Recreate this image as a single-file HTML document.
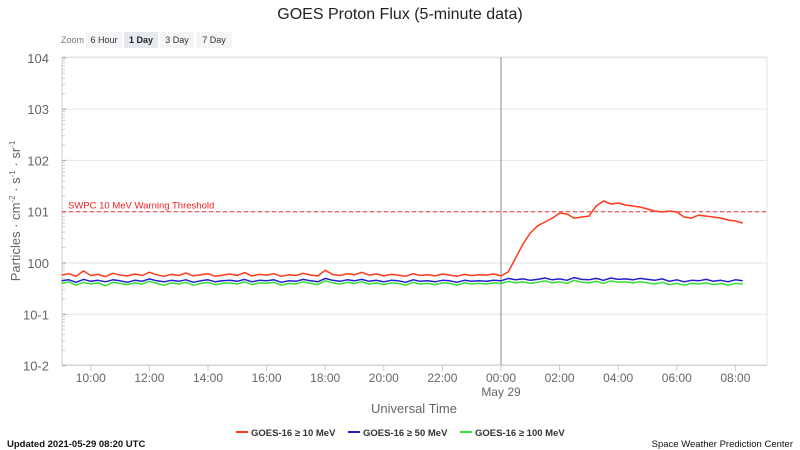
<!DOCTYPE html>
<html><head><meta charset="utf-8"><style>
body{margin:0;background:#fff;font-family:"Liberation Sans",sans-serif;}
svg{display:block}
</style></head><body>
<svg id="c" width="800" height="450">
<text x="400" y="19" text-anchor="middle" font-size="16" fill="#222">GOES Proton Flux (5-minute data)</text>
<text x="61" y="43" font-size="9" fill="#777">Zoom</text>
<g><rect x="86" y="32" width="36" height="16" fill="#f4f5f7"/><text x="104" y="43" text-anchor="middle" font-size="9" fill="#333">6 Hour</text></g>
<g><rect x="124" y="32" width="34" height="16" fill="#e6e9f0"/><text x="141" y="43" text-anchor="middle" font-size="9" font-weight="bold" fill="#222">1 Day</text></g>
<g><rect x="160" y="32" width="34" height="16" fill="#f4f5f7"/><text x="177" y="43" text-anchor="middle" font-size="9" fill="#333">3 Day</text></g>
<g><rect x="196" y="32" width="36" height="16" fill="#f4f5f7"/><text x="214" y="43" text-anchor="middle" font-size="9" fill="#333">7 Day</text></g>
<text transform="translate(20,211) rotate(-90)" text-anchor="middle" font-size="13" fill="#666">Particles · cm<tspan font-size="8" dy="-5">-2</tspan><tspan dy="5"> · s</tspan><tspan font-size="8" dy="-5">-1</tspan><tspan dy="5"> · sr</tspan><tspan font-size="8" dy="-5">-1</tspan></text>
<text x="414" y="413" text-anchor="middle" font-size="13" fill="#666">Universal Time</text>
<g id="plot"></g>
<g font-size="9.5" font-weight="bold" fill="#333">
<g><line x1="236" y1="432" x2="248" y2="432" stroke="#ff3a1a" stroke-width="2"/><text x="251" y="436">GOES-16 ≥ 10 MeV</text></g>
<g><line x1="348" y1="432" x2="360" y2="432" stroke="#2020d0" stroke-width="2"/><text x="363" y="436">GOES-16 ≥ 50 MeV</text></g>
<g><line x1="460" y1="432" x2="472" y2="432" stroke="#33e033" stroke-width="2"/><text x="475" y="436">GOES-16 ≥ 100 MeV</text></g>
</g>
<text x="7" y="447" font-size="9.5" font-weight="bold" fill="#111">Updated 2021-05-29 08:20 UTC</text>
<text x="793" y="447" text-anchor="end" font-size="9.5" fill="#111">Space Weather Prediction Center</text>
</svg>
<script>
const yTickExps = [4,3,2,1,0,-1,-2];
const xTickLabels = ["10:00","12:00","14:00","16:00","18:00","20:00","22:00","00:00","02:00","04:00","06:00","08:00"];
const xTickHours = [-14,-12,-10,-8,-6,-4,-2,0,2,4,6,8];
const startHour = -15; const stepHours = 0.25;
const threshold = 10;
const red = [0.58,0.62,0.55,0.70,0.57,0.60,0.54,0.63,0.58,0.56,
0.61,0.57,0.66,0.59,0.55,0.60,0.57,0.64,0.56,0.59,
0.62,0.55,0.58,0.61,0.57,0.65,0.56,0.60,0.58,0.62,
0.55,0.59,0.57,0.63,0.58,0.56,0.72,0.60,0.57,0.62,
0.59,0.66,0.58,0.61,0.56,0.60,0.58,0.55,0.62,0.57,
0.59,0.56,0.61,0.58,0.55,0.60,0.57,0.59,0.58,0.61,
0.56,0.67,1.25,2.35,3.85,5.3,6.3,7.5,9.4,9.0,
7.5,7.9,8.2,12.9,16.2,14.1,14.8,13.5,12.9,12.3,
11.3,10.3,9.85,10.3,9.85,7.9,7.5,8.6,8.2,7.9,
7.5,6.9,6.6,6.0];
const blue = [0.45,0.47,0.42,0.48,0.44,0.46,0.43,0.47,0.45,0.42,
0.46,0.44,0.49,0.45,0.43,0.46,0.44,0.47,0.42,0.45,
0.47,0.43,0.45,0.46,0.44,0.48,0.43,0.46,0.45,0.47,
0.42,0.45,0.44,0.48,0.45,0.43,0.50,0.46,0.44,0.47,
0.45,0.48,0.44,0.46,0.43,0.46,0.45,0.42,0.47,0.44,
0.45,0.43,0.46,0.45,0.42,0.46,0.44,0.45,0.44,0.46,
0.45,0.50,0.47,0.49,0.46,0.48,0.51,0.47,0.49,0.46,
0.52,0.48,0.47,0.50,0.46,0.51,0.48,0.49,0.47,0.50,
0.48,0.46,0.49,0.44,0.47,0.43,0.46,0.45,0.48,0.44,
0.46,0.43,0.47,0.45];
const green = [0.40,0.43,0.37,0.42,0.39,0.41,0.36,0.42,0.40,0.38,
0.41,0.39,0.44,0.40,0.37,0.41,0.39,0.42,0.37,0.40,
0.42,0.38,0.40,0.41,0.39,0.43,0.38,0.41,0.40,0.42,
0.37,0.40,0.39,0.43,0.40,0.38,0.45,0.41,0.39,0.42,
0.40,0.43,0.39,0.41,0.38,0.41,0.40,0.37,0.42,0.39,
0.40,0.38,0.41,0.40,0.37,0.41,0.39,0.40,0.39,0.41,
0.40,0.44,0.41,0.43,0.40,0.42,0.45,0.41,0.43,0.40,
0.46,0.42,0.41,0.44,0.40,0.45,0.42,0.43,0.41,0.43,
0.41,0.39,0.42,0.38,0.40,0.37,0.40,0.39,0.41,0.38,
0.40,0.37,0.40,0.39];

const L=62,R=767,T=57,B=365;
const xS=h=>501+h*29.3;
const yS=v=>263-Math.log10(v)*51.3;
const yE=e=>263-e*51.3;
const ns="http://www.w3.org/2000/svg";
const g=document.getElementById('plot');
function mk(t,a,p){const e=document.createElementNS(ns,t);for(const k in a)e.setAttribute(k,a[k]);(p||g).appendChild(e);return e;}

const frame=mk('rect',{x:L,y:T,width:R-L,height:B-T,fill:'none',stroke:'#e6e6e6'});


yTickExps.forEach(e=>{
  const y=yE(e);
  const gl=mk('line',{x1:L,x2:R,y1:y,y2:y,stroke:'#e6e6e6'});
  
  
  const t=mk('text',{x:49,y:y+5,'text-anchor':'end','font-size':13,fill:'#666'});
  t.textContent='10'+e;
  
  
  mk('line',{x1:L,x2:L+4,y1:y,y2:y,stroke:'#999'});
  if(e<4){for(let m=2;m<10;m++){const yy=y-Math.log10(m)*51.3;mk('line',{x1:L,x2:L+3,y1:yy,y2:yy,stroke:'#ccc'});}}
});
mk('line',{x1:L,x2:L,y1:T,y2:B,stroke:'#ccc'});
mk('line',{x1:L,x2:R,y1:B,y2:B,stroke:'#ccc'});
xTickHours.forEach((h,i)=>{
  const x=xS(h);
  mk('line',{x1:x,x2:x,y1:B,y2:B+6,stroke:'#ccc'});
  const t=mk('text',{x:x,y:382,'text-anchor':'middle','font-size':12,fill:'#666'});
  t.textContent=xTickLabels[i];
  
  
});
const d=mk('text',{x:xS(0),y:396,'text-anchor':'middle','font-size':12,fill:'#666'});
d.textContent='May 29';


const vl=mk('line',{x1:xS(0),x2:xS(0),y1:T,y2:B,stroke:'#888'});


const th=mk('line',{x1:L,x2:R,y1:yS(threshold),y2:yS(threshold),stroke:'#f03030','stroke-dasharray':'4,3'});


const tt=mk('text',{x:68,y:yS(threshold)-3,'font-size':9.5,fill:'#f02020'});
tt.textContent='SWPC 10 MeV Warning Threshold';


function series(arr,col,name){
  const pts=arr.map((v,i)=>xS(startHour+i*stepHours).toFixed(1)+','+yS(v).toFixed(1)).join(' ');
  const p=mk('polyline',{points:pts,fill:'none',stroke:col,'stroke-width':1.5,'stroke-linejoin':'round'});
  
  
}
series(green,'#33e033','series-100mev');
series(blue,'#2020d0','series-50mev');
series(red,'#ff3a1a','series-10mev');
</script>
</body></html>
